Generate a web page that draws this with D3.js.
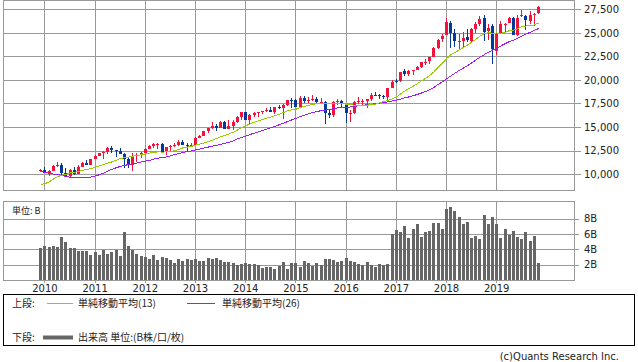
<!DOCTYPE html>
<html lang='ja'>
<head>
    <meta charset='UTF-8'>
    <title>Monthly Candles - SMA / Volume</title>
    <script src='https://cdn.jsdelivr.net/npm/d3@7/dist/d3.min.js'></script>
    <style>
        body { margin: 0; background: #fff; }
        svg text { font-family: 'DejaVu Sans', sans-serif; fill: #222; }
        .jp { font-family: 'Noto Sans CJK JP', sans-serif; }
        .grid line { stroke: #999; shape-rendering: crispEdges; }
        .grid path { stroke-width: 0; }
        .frame { fill: none; stroke: #999; shape-rendering: crispEdges; }
        .lbl path { stroke-width: 0; }
        .lbl line { stroke: #999; shape-rendering: crispEdges; }
        .candle { shape-rendering: crispEdges; }
        .ma { fill: none; stroke-width: 1; shape-rendering: crispEdges; }
    </style>
</head>
<body>
<script>
    // Monthly candles, Dec 2009 .. Nov 2019 (last month not finished)
    const open = [10344,
        10430, 10068, 10326, 10857, 11009, 10137, 9774, 10465, 10016, 10789, 11119, 11007,
        11577, 11891, 12226, 12321, 12810, 12569, 12412, 12144, 11614, 10912, 11955, 12046,
        12221, 12632, 12952, 13211, 13214, 12391, 12879, 13010, 13092, 13437, 13099, 13027,
        13104, 13860, 14054, 14580, 14840, 15115, 14911, 15499, 14810, 15132, 15546, 16087,
        16572, 15698, 16321, 16458, 16580, 16716, 16828, 16561, 17099, 17041, 17390, 17827,
        17823, 17169, 18135, 17776, 17841, 18011, 17639, 17690, 16528, 16284, 17663, 17719,
        17405, 16452, 16516, 17661, 17784, 17755, 17924, 18434, 18392, 18279, 18158, 19122,
        19873, 19872, 20957, 20665, 20962, 21030, 21392, 21923, 21982, 22423, 23442, 24305,
        24809, 26084, 25025, 24076, 24117, 24542, 24161, 25461, 25917, 26598, 25235, 25780,
        23059, 24999, 25925, 26076, 26640, 24820, 26787, 26834, 26313, 26963, 27071];
    const high = [10580,
        10730, 10402, 10928, 11258, 11205, 10595, 10530, 10720, 10948, 11245, 11452, 11625,
        12021, 12284, 12419, 12876, 12929, 12570, 12753, 12285, 11717, 12284, 12188, 12360,
        12756, 13055, 13289, 13338, 13280, 12900, 13115, 13331, 13653, 13662, 13290, 13307,
        13969, 14149, 14585, 14888, 15542, 15341, 15634, 15658, 15709, 15721, 16174, 16589,
        16588, 16398, 16588, 16632, 16736, 16978, 17152, 17154, 17350, 17395, 17894, 18103,
        17951, 18244, 18289, 18175, 18351, 18137, 18121, 17794, 16933, 17799, 17977, 17888,
        17405, 16795, 17791, 18168, 17952, 18016, 18622, 18668, 18534, 18399, 19152, 19988,
        20126, 20851, 21169, 21070, 21113, 21535, 21929, 22179, 22420, 23485, 24327, 24876,
        26617, 26307, 25450, 24858, 25087, 25403, 25552, 26167, 26770, 26952, 25989, 25980,
        25040, 26242, 26110, 26696, 26676, 26907, 27399, 26876, 27307, 27134, 27830];
    const low = [10236,
        10057, 9835, 10325, 10785, 9774, 9758, 9614, 9936, 10016, 10711, 10929, 11006,
        11577, 11892, 11555, 12093, 12241, 11862, 12093, 10605, 10597, 10362, 11232, 11735,
        12221, 12632, 12757, 12710, 12391, 12035, 12492, 12892, 12978, 13063, 12471, 12883,
        13104, 13784, 14054, 14398, 14740, 14551, 14911, 14760, 14777, 14720, 15430, 15703,
        15699, 15340, 16035, 16016, 16334, 16645, 16563, 16334, 16902, 15855, 17278, 17068,
        17136, 17037, 17585, 17577, 17792, 17588, 17399, 15370, 15943, 16013, 17311, 17128,
        15451, 15503, 16415, 17484, 17331, 17063, 17713, 18247, 17992, 17959, 17884, 19122,
        19678, 19832, 20412, 20379, 20553, 21030, 21279, 21600, 21709, 22416, 23242, 24069,
        24742, 23360, 23509, 23345, 23531, 24084, 24078, 24965, 25779, 24123, 24268, 21713,
        22639, 24884, 25034, 26052, 24816, 24680, 26700, 25340, 25978, 25744, 27042];
    const close = [10428,
        10067, 10325, 10857, 11009, 10137, 9774, 10466, 10015, 10788, 11118, 11006, 11578,
        11892, 12226, 12320, 12811, 12570, 12414, 12143, 11614, 10913, 11955, 12046, 12218,
        12633, 12952, 13212, 13214, 12393, 12880, 13009, 13091, 13437, 13096, 13026, 13104,
        13861, 14054, 14579, 14840, 15116, 14910, 15500, 14810, 15130, 15546, 16086, 16577,
        15699, 16322, 16458, 16581, 16717, 16827, 16563, 17098, 17043, 17391, 17828, 17823,
        17165, 18133, 17776, 17841, 18011, 17620, 17690, 16528, 16285, 17664, 17720, 17425,
        16466, 16517, 17685, 17774, 17787, 17930, 18432, 18401, 18308, 18142, 19124, 19763,
        19864, 20812, 20663, 20940, 21009, 21350, 21891, 21948, 22405, 23377, 24272, 24719,
        26149, 25029, 24103, 24163, 24416, 24271, 25415, 25965, 26458, 25116, 25538, 23327,
        24999, 25916, 25929, 26593, 24815, 26600, 26864, 26403, 26917, 27046, 27780];
    // closes before the first visible month (Nov 2007 .. Nov 2009), only used to warm up the SMAs
    const priorCloses = [13372, 13265,
        12650, 12266, 12263, 12820, 12638, 11350, 11378, 11544, 10851, 9325, 8829, 8776,
        8001, 7063, 7609, 8168, 8500, 8447, 9172, 9496, 9712, 9713, 10345];
    // volume, billions
    const volume = [4.16,
        4.46, 4.33, 4.46, 4.33, 5.63, 4.98, 4.2, 4.2, 3.81, 3.81, 3.81, 3.29,
        3.68, 3.29, 3.94, 3.42, 3.68, 3.94, 3.16, 6.28, 4.46, 3.94, 3.42, 3.16,
        3.03, 2.77, 3.29, 2.64, 3.03, 2.9, 2.64, 2.25, 2.77, 2.51, 2.77, 2.64,
        2.77, 2.51, 2.51, 2.9, 2.77, 2.9, 2.64, 2.38, 2.38, 2.25, 1.99, 2.12,
        2.25, 2.12, 2.12, 1.99, 1.6, 1.73, 1.73, 1.47, 1.86, 2.38, 1.47, 2.25,
        2.25, 1.73, 2.51, 2.25, 1.86, 2.25, 1.99, 2.77, 2.77, 2.64, 2.38, 2.51,
        2.9, 2.51, 2.38, 2.12, 1.99, 2.38, 1.9, 1.73, 2.12, 1.9, 2.12, 6.02,
        6.54, 6.28, 7.06, 5.5, 6.67, 7.32, 5.63, 6.28, 6.41, 7.45, 7.45, 6.67,
        9.26, 9.52, 9.0, 8.23, 7.32, 7.58, 5.5, 5.76, 5.37, 8.48, 7.32, 8.23,
        7.32, 5.5, 6.67, 5.89, 6.41, 5.63, 5.37, 6.28, 5.11, 5.76, 2.25];

    const yearLabels = ['2010', '2011', '2012', '2013', '2014', '2015', '2016', '2017', '2018', '2019'];
    const yearIndex = yearLabels.map((d, k) => 1 + 12 * k);   // January candle of each year
    const priceTicks = [10000, 12500, 15000, 17500, 20000, 22500, 25000, 27500];
    const volumeTicks = [2, 4, 6, 8];

    const upColor = '#f2123c';
    const downColor = '#06389a';
    const ma13Color = '#99cc00';
    const ma26Color = '#a01cf0';

    /**
     * Layout
     */
    const W = 638, H = 362;
    const plotLeft = 3, plotRight = 574;
    const upper = { y0: 0, y1: 190 };
    const lower = { y0: 201, y1: 280 };

    const svg = d3.select('body').append('svg')
        .attr('width', W)
        .attr('height', H);

    const data = close.map((c, i) => ({
        i, open: open[i], high: high[i], low: low[i], close: c, vol: volume[i]
    }));

    // simple moving averages, using the earlier closes to fill the window
    const allCloses = priorCloses.concat(close);
    const sma = n => close.map((c, i) => {
        const end = priorCloses.length + i + 1;
        return { i, v: d3.mean(allCloses.slice(end - n, end)) };
    });
    const ma13 = sma(13);
    const ma26 = sma(26);

    const xScale = d3.scaleLinear()
        .domain([-8.9, 127.6])
        .range([plotLeft, plotRight]);

    const yScale = d3.scaleLinear()
        .domain([8300, 28450])
        .range([upper.y1, upper.y0 + 0.5]);

    const vScale = d3.scaleLinear()
        .domain([0, 10.3])
        .range([lower.y1, lower.y0]);

    const px = i => Math.round(xScale(i));

    /**
     * Upper panel: grid, candles, SMA lines
     */
    const g1 = svg.append('g');

    g1.append('g')
        .attr('class', 'grid')
        .attr('transform', `translate(0, ${upper.y1})`)
        .call(d3.axisBottom(xScale).tickValues(yearIndex).tickSize(-(upper.y1 - upper.y0)).tickFormat(''));

    g1.append('g')
        .attr('class', 'grid')
        .attr('transform', `translate(${plotLeft}, 0)`)
        .call(d3.axisLeft(yScale).tickValues(priceTicks).tickSize(-(plotRight - plotLeft)).tickFormat(''));

    g1.append('g')
        .attr('class', 'lbl')
        .attr('transform', `translate(${plotRight}, 0)`)
        .call(d3.axisRight(yScale).tickValues(priceTicks).tickSize(7).tickPadding(3).tickFormat(d3.format(',')))
        .selectAll('text')
        .style('font-size', '10px')
        .attr('fill', '#222');

    g1.append('rect')
        .attr('class', 'frame')
        .attr('x', plotLeft + 0.5)
        .attr('y', upper.y0 + 0.5)
        .attr('width', plotRight - plotLeft)
        .attr('height', upper.y1 - upper.y0);

    const candles = g1.selectAll('.candle')
        .data(data)
        .enter().append('g')
        .attr('class', 'candle')
        .attr('fill', d => d.close >= d.open ? upColor : downColor)
        .attr('stroke', d => d.close >= d.open ? upColor : downColor);

    candles.append('line')
        .attr('x1', d => px(d.i) + 0.5)
        .attr('x2', d => px(d.i) + 0.5)
        .attr('y1', d => yScale(d.high))
        .attr('y2', d => yScale(d.low));

    candles.append('rect')
        .attr('stroke', 'none')
        .attr('x', d => px(d.i) - 1)
        .attr('width', 3)
        .attr('y', d => yScale(Math.max(d.open, d.close)))
        .attr('height', d => Math.max(1, Math.abs(yScale(d.open) - yScale(d.close))));

    const maLine = d3.line()
        .x(d => xScale(d.i) + 0.5)
        .y(d => yScale(d.v));

    g1.append('path').datum(ma26).attr('class', 'ma').attr('stroke', ma26Color).attr('d', maLine);
    g1.append('path').datum(ma13).attr('class', 'ma').attr('stroke', ma13Color).attr('d', maLine);

    /**
     * Lower panel: volume
     */
    const g2 = svg.append('g');

    g2.append('g')
        .attr('class', 'grid')
        .attr('transform', `translate(0, ${lower.y1})`)
        .call(d3.axisBottom(xScale).tickValues(yearIndex).tickSize(-(lower.y1 - lower.y0)).tickFormat(''));

    g2.append('g')
        .attr('class', 'grid')
        .attr('transform', `translate(${plotLeft}, 0)`)
        .call(d3.axisLeft(vScale).tickValues(volumeTicks).tickSize(-(plotRight - plotLeft)).tickFormat(''));

    g2.append('g')
        .attr('class', 'lbl')
        .attr('transform', `translate(${plotRight}, 0)`)
        .call(d3.axisRight(vScale).tickValues(volumeTicks).tickSize(5).tickPadding(5).tickFormat(d => d + 'B'))
        .selectAll('text')
        .style('font-size', '10px')
        .attr('fill', '#222');

    // year labels under the volume panel
    g2.append('g')
        .attr('class', 'lbl')
        .attr('transform', `translate(0, ${lower.y1})`)
        .call(d3.axisBottom(xScale).tickValues(yearIndex).tickSize(3).tickPadding(2)
            .tickFormat((d, k) => yearLabels[k]))
        .selectAll('text')
        .style('font-size', '10px')
        .attr('fill', '#222');

    g2.selectAll('.vol')
        .data(data)
        .enter().append('rect')
        .attr('class', 'vol')
        .attr('fill', '#666')
        .attr('shape-rendering', 'crispEdges')
        .attr('x', d => px(d.i) - 1)
        .attr('width', 3)
        .attr('y', d => vScale(d.vol))
        .attr('height', d => vScale(0) - vScale(d.vol));

    g2.append('rect')
        .attr('class', 'frame')
        .attr('x', plotLeft + 0.5)
        .attr('y', lower.y0 + 0.5)
        .attr('width', plotRight - plotLeft)
        .attr('height', lower.y1 - lower.y0);

    g2.append('text')
        .attr('class', 'jp')
        .attr('x', 12)
        .attr('y', 214)
        .style('font-size', '9px')
        .text('単位: B');

    /**
     * Legend and footer
     */
    const lg = svg.append('g');

    lg.append('rect')
        .attr('x', 3.5).attr('y', 294.5)
        .attr('width', 631).attr('height', 51)
        .attr('fill', 'none').attr('stroke', '#000');

    lg.append('text').attr('class', 'jp').attr('x', 12).attr('y', 307).style('font-size', '10px').text('上段:');
    lg.append('line').attr('x1', 47).attr('x2', 73).attr('y1', 303.5).attr('y2', 303.5).attr('stroke', ma13Color);
    lg.append('text').attr('class', 'jp').attr('x', 78).attr('y', 307).style('font-size', '10px').text('単純移動平均(13)');
    lg.append('line').attr('x1', 187).attr('x2', 215).attr('y1', 303.5).attr('y2', 303.5).attr('stroke', ma26Color);
    lg.append('text').attr('class', 'jp').attr('x', 222).attr('y', 307).style('font-size', '10px').text('単純移動平均(26)');

    lg.append('text').attr('class', 'jp').attr('x', 12).attr('y', 341).style('font-size', '10px').text('下段:');
    lg.append('line').attr('x1', 43).attr('x2', 73).attr('y1', 337.5).attr('y2', 337.5)
        .attr('stroke', '#666').attr('stroke-width', 4);
    lg.append('text').attr('class', 'jp').attr('x', 78).attr('y', 341).style('font-size', '10px').text('出来高 単位:(B株/口/枚)');

    svg.append('text')
        .attr('x', 619).attr('y', 360)
        .attr('text-anchor', 'end')
        .attr('fill', '#444')
        .style('font-size', '10px')
        .text('(c)Quants Research Inc.');
</script>
</body>
</html>
